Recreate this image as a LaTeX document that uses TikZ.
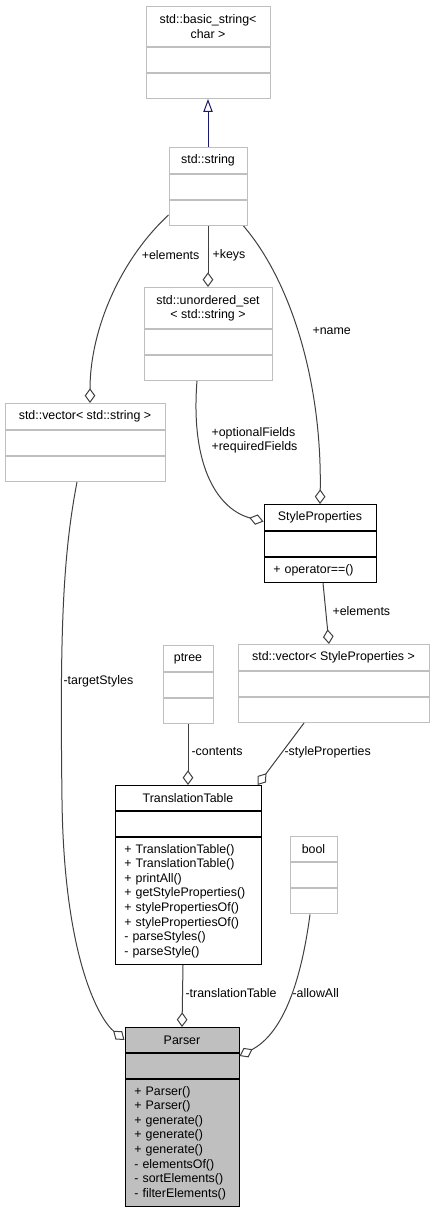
\documentclass[tikz,border=0pt]{standalone}
\usepackage{fontspec}
\setmainfont{Liberation Sans}
\usetikzlibrary{positioning,calc,arrows.meta}

\definecolor{boxgray}{HTML}{BFBFBF}
\definecolor{edgegray}{HTML}{404040}
\definecolor{inhnavy}{HTML}{191970}

\tikzset{
	cls/.style={draw=boxgray, line width=0.75pt, inner sep=0pt, align=center,
		font=\fontsize{9.3}{10.8}\selectfont, minimum height=18.75pt},
	clsdark/.style={cls, draw=black},
	ops/.style={clsdark, align=left, inner xsep=7pt, anchor=north,
		font=\fontsize{9.3}{10.95}\selectfont, execute at begin node={\hyphenpenalty=10000\relax}},
	agg/.style={edgegray, line width=0.75pt, -{Diamond[open, length=11pt, width=8pt]}},
	inherit/.style={inhnavy, line width=0.75pt, -{Triangle[open, length=9.75pt, width=7pt]}},
	lbl/.style={font=\fontsize{9.3}{10.5}\selectfont, inner sep=1pt, anchor=west}
}

\begin{document}
\begin{tikzpicture}[x=0.75pt, y=-0.75pt]
	\useasboundingbox (0,0) rectangle (435,1212);
	% library classes: title, empty attributes, empty operations
	\foreach \n/\x/\y/\w/\h/\t in {
		basic/208/6/93/30/{std::basic\_string<\\char >},
		string/208/147/58.5/19.5/std::string,
		uset/208/287/96/30.75/{std::unordered\_set\\< std::string >},
		vstr/85/403/120/19.5/std::vector< std::string >,
		vsp/333.5/644/143.25/19.5/std::vector< StyleProperties >,
		ptree/188/645/37.5/19.5/ptree,
		bool/313.5/836/35.25/19/bool}
	{
		\node[cls, anchor=north, minimum width=\w pt, minimum height=\h pt] (\n) at (\x,\y) {\t};
		\node[cls, below=0pt of \n, minimum width=\w pt] (\n-attr) {};
		\node[cls, below=0pt of \n-attr, minimum width=\w pt] (\n-ops) {};
	}

	% project classes
	\node[clsdark, anchor=north, minimum width=84pt, minimum height=19.5pt] (style) at (320,504) {StyleProperties};
	\node[clsdark, below=0pt of style, minimum width=84pt] (style-attr) {};
	\node[ops, below=0pt of style-attr, text width=70pt] (style-ops) {+ operator==()};

	\node[clsdark, anchor=north, minimum width=109.5pt] (table) at (188,785) {TranslationTable};
	\node[clsdark, below=0pt of table, minimum width=109.5pt] (table-attr) {};
	\node[ops, below=0pt of table-attr, text width=95.5pt, minimum height=95.25pt] (table-ops) {%
		+ TranslationTable()\\+ TranslationTable()\\+ printAll()\\+ getStyleProperties()\\%
		+ stylePropertiesOf()\\+ stylePropertiesOf()\\- parseStyles()\\- parseStyle()};

	\node[clsdark, fill=boxgray, anchor=north, minimum width=85.5pt] (parser) at (182,1027) {Parser};
	\node[clsdark, fill=boxgray, below=0pt of parser, minimum width=85.5pt] (parser-attr) {};
	\node[ops, fill=boxgray, below=0pt of parser-attr, text width=71.5pt, minimum height=95.25pt] (parser-ops) {%
		+ Parser()\\+ Parser()\\+ generate()\\+ generate()\\+ generate()\\%
		- elementsOf()\\- sortElements()\\- filterElements()};

	% connectors
	\draw[inherit] (string.north) -- (basic-ops.south);
	\draw[agg] (string-ops.south) -- (uset.north);
	\draw[agg] ($(string-ops.west)+(0,2)$) .. controls (120,260) and (90,330) .. ($(vstr.north)+(5,0)$);
	\draw[agg] ($(string-ops.south east)+(-4,0)$) .. controls (290,280) and (322,380) .. (style.north);
	\draw[agg] ($(uset-ops.south)+(-11,0)$) .. controls (190,470) and (220,510) .. ($(style.west)+(0,4)$);
	\draw[agg] ($(style-ops.south)+(3,0)$) -- ($(vsp.north)+(-4.5,0)$);
	\draw[agg] (ptree-ops.south) -- (table.north);
	\draw[agg] ($(vsp-ops.south)+(-29.5,0)$) -- ($(table.north east)+(-4,0)$);
	\draw[agg] ($(vstr-ops.south)+(-8,0)$) .. controls (62,560) and (60,640) .. (62,800)
		.. controls (64,960) and (100,1020) .. (parser.west);
	\draw[agg] ($(table-ops.south)+(-5,0)$) -- (parser.north);
	\draw[agg] ($(bool-ops.south)+(-3.5,0)$) .. controls (300,990) and (280,1035) .. ($(parser-attr.north east)+(0,3)$);

	% connector labels
	\node[lbl] (l-keys) at (211,255) {+keys};
	\node[lbl, anchor=east] (l-elem) at (201,255) {+elements};
	\node[lbl] (l-name) at (311,331) {+name};
	\node[lbl, align=left] (l-fields) at (210,440) {+optionalFields\\+requiredFields};
	\node[lbl] (l-spelem) at (331,611) {+elements};
	\node[lbl] (l-target) at (62,681) {-targetStyles};
	\node[lbl] (l-contents) at (190,752) {-contents};
	\node[lbl] (l-props) at (283,752) {-styleProperties};
	\node[lbl] (l-table) at (184,993) {-translationTable};
	\node[lbl] (l-allow) at (291,993) {-allowAll};
\end{tikzpicture}
\end{document}
